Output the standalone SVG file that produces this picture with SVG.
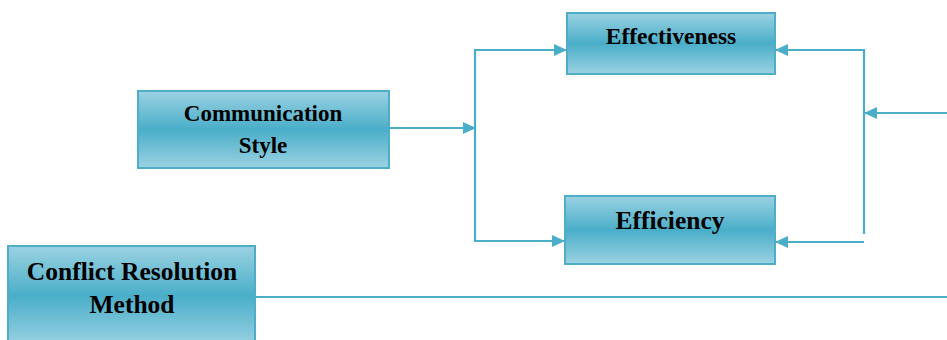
<svg xmlns="http://www.w3.org/2000/svg" width="947" height="340" viewBox="0 0 947 340">
<style>
.box{stroke:#4fadc8;stroke-width:2;fill:url(#g)}
.t{font-family:"Liberation Serif",serif;font-weight:bold;font-size:23px;fill:#000;text-anchor:middle}
.l{font-size:25.5px}
.c{stroke:#4aaec9;stroke-width:2.2;fill:none}
</style>
<defs>
<linearGradient id="g" x1="0" y1="0" x2="0" y2="1">
<stop offset="0" stop-color="#9bd2e2"/>
<stop offset="0.5" stop-color="#4aaec9"/>
<stop offset="1" stop-color="#9bd2e2"/>
</linearGradient>
<marker id="a" markerWidth="13" markerHeight="12" refX="12" refY="6" orient="auto" markerUnits="userSpaceOnUse">
<path d="M0,0 L13,6 L0,12 z" fill="#4aaec9"/>
</marker>
</defs>
<g id="communication">
<rect class="box" x="138" y="91" width="251" height="77"/>
<text class="t" x="263" y="121">Communication</text>
<text class="t" x="263" y="153">Style</text>
</g>
<g id="effectiveness">
<rect class="box" x="567" y="13" width="208" height="61"/>
<text class="t" x="671" y="44" style="font-size:23.5px">Effectiveness</text>
</g>
<g id="efficiency">
<rect class="box" x="565" y="196" width="210" height="68"/>
<text class="t l" x="670" y="229">Efficiency</text>
</g>
<g id="conflict">
<rect class="box" x="8" y="246" width="247" height="100"/>
<text class="t l" x="132" y="280">Conflict Resolution</text>
<text class="t l" x="132" y="313">Method</text>
</g>
<g id="connectors">
<line class="c" x1="389" y1="128" x2="475" y2="128" marker-end="url(#a)"/>
<polyline class="c" points="555,50 475,50 475,241 553,241"/>
<line class="c" x1="475" y1="50" x2="566" y2="50" marker-end="url(#a)"/>
<line class="c" x1="475" y1="241" x2="564" y2="241" marker-end="url(#a)"/>
<line class="c" x1="864" y1="50" x2="776" y2="50" marker-end="url(#a)"/>
<line class="c" x1="864" y1="49" x2="864" y2="234"/>
<line class="c" x1="864" y1="242" x2="776" y2="242" marker-end="url(#a)"/>
<line class="c" x1="947" y1="113" x2="865" y2="113" marker-end="url(#a)"/>
<line class="c" x1="255" y1="297" x2="947" y2="297"/>
</g>
</svg>
